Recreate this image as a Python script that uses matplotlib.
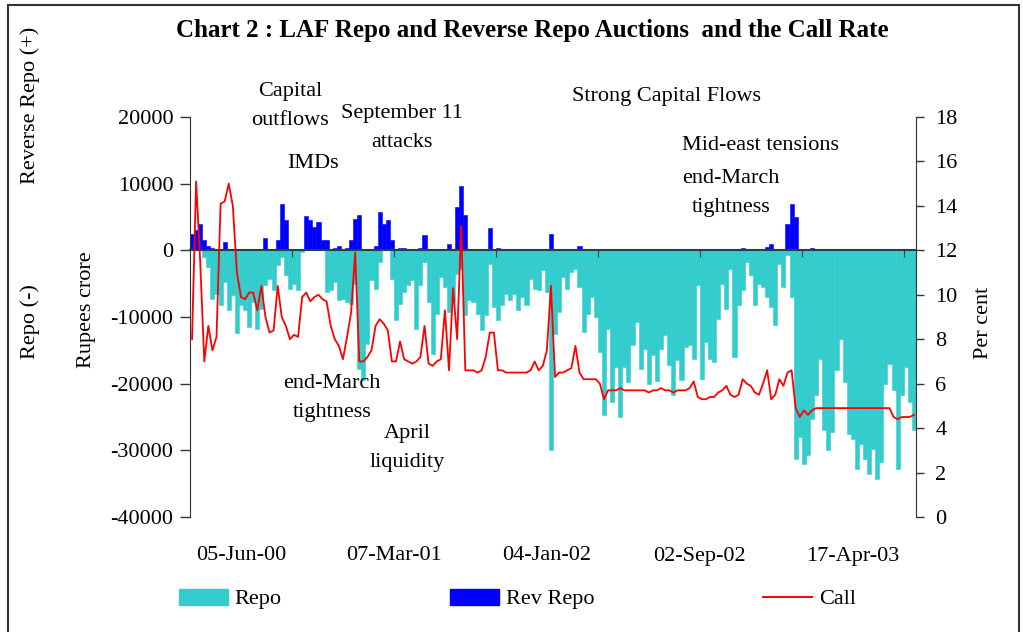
import matplotlib.pyplot as plt
import numpy as np
from matplotlib.patches import Rectangle, Patch
from matplotlib.lines import Line2D

# LAF auctions, one value per block of 4 auction days (Rs crore)
repo = [0, 0, 0, -1000, -2500, -7250, -6500, -8250, -4750, -9000,
        -6750, -12350, -8250, -9000, -11500, -7750, -11750, -8750, -5250, -4250,
        -6000, -2250, -1000, -3750, -5750, -5000, -6000, -250, 0, 0,
        0, 0, 0, -6250, -6000, -4750, -7500, -7250, -7750, -8000,
        -5000, -17750, -19500, -14000, -4500, -5750, -1750, 0, 0, -4250,
        -10500, -8000, -6250, -5250, -4500, -11750, -5250, -1750, -7750, -15500,
        -9500, -4000, -5500, -9250, -7750, -3500, -2750, -9750, -7500, -7750,
        -9500, -12000, -9750, -2000, -8500, -10500, -8250, -6500, -7500, -6500,
        -9000, -7000, -8250, -4250, -5750, -6000, -3000, -6250, -30000, -12500,
        -9250, -4000, -5750, -3250, -2750, -5500, -12250, -9500, -7000, -10000,
        -15250, -24750, -11750, -22750, -17500, -25000, -17500, -19750, -14250, -10750,
        -17750, -14750, -20000, -15750, -19650, -14750, -12750, -17250, -21750, -16500,
        -19500, -14500, -14250, -16250, -5250, -19250, -13750, -16250, -16750, -10250,
        -5000, -8750, -2750, -16000, -8250, -6000, -1750, -3750, -8250, -5000,
        -5500, -7000, -8500, -11250, -2000, -5500, -750, -7000, -31250, -28000,
        -32000, -30750, -25250, -21750, -16250, -27000, -30000, -27250, -18000, -13250,
        -19750, -27500, -28250, -32750, -29000, -31250, -33500, -29750, -34250, -31750,
        -20000, -17000, -21000, -32750, -21750, -17500, -22750, -27000]

rev_repo = [2500, 3000, 4000, 1500, 600, 300, 0, 0, 1250, 0,
            0, 0, 0, 0, 0, 0, 0, 0, 1850, 0,
            0, 1500, 7000, 4500, 0, 0, 0, 0, 5200, 4500,
            3500, 4250, 1500, 1500, 0, 300, 650, 0, 300, 1500,
            4750, 5250, 0, 0, 0, 650, 5750, 4000, 4500, 1500,
            0, 400, 400, 0, 0, 200, 400, 2250, 0, 0,
            0, 0, 0, 1000, 0, 6500, 9650, 5350, 0, 0,
            0, 0, 0, 3350, 0, 350, 0, 0, 0, 0,
            0, 0, 0, 0, 0, 0, 0, 0, 2500, 0,
            0, 0, 0, 0, 0, 650, 0, 0, 0, 0,
            0, 0, 0, 0, 0, 0, 0, 0, 0, 0,
            0, 0, 0, 0, 0, 0, 0, 0, 0, 0,
            0, 0, 0, 0, 0, 0, 0, 0, 0, 0,
            0, 0, 0, 0, 0, 350, 0, 0, 0, 0,
            0, 500, 1000, 0, 0, 0, 4000, 6900, 5000, 0,
            0, 0, 350, 0, 0, 0, 0, 0, 0, 0,
            0, 0, 0, 0, 0, 0, 0, 0, 0, 0,
            0, 0, 0, 0, 0, 0, 0, 0]

# call money rate, per cent
call = [8.0, 15.1, 11.5, 7.0, 8.6, 7.5, 8.1, 14.1, 14.2, 15.0,
        14.0, 11.0, 9.9, 9.8, 10.1, 10.1, 9.3, 10.4, 9.0, 8.3,
        8.4, 10.4, 9.0, 8.6, 8.0, 8.2, 8.1, 9.9, 10.1, 9.7,
        9.9, 10.0, 9.8, 9.7, 8.6, 8.0, 7.7, 7.1, 8.1, 9.2,
        11.9, 7.0, 7.0, 7.2, 7.5, 8.6, 8.9, 8.7, 8.4, 7.0,
        7.0, 7.9, 7.1, 7.0, 6.9, 7.0, 7.2, 8.6, 6.9, 6.8,
        7.0, 7.1, 9.3, 6.6, 10.3, 8.0, 13.1, 6.6, 6.6, 6.6,
        6.5, 6.6, 7.2, 8.3, 8.3, 6.6, 6.6, 6.5, 6.5, 6.5,
        6.5, 6.5, 6.5, 6.6, 7.0, 6.6, 6.8, 7.5, 10.4, 6.3,
        6.5, 6.5, 6.6, 6.7, 7.7, 6.5, 6.2, 6.2, 6.2, 6.2,
        6.0, 5.3, 5.7, 5.7, 5.7, 5.8, 5.7, 5.7, 5.7, 5.7,
        5.7, 5.7, 5.6, 5.7, 5.7, 5.8, 5.7, 5.7, 5.6, 5.7,
        5.7, 5.7, 5.8, 6.1, 5.4, 5.3, 5.3, 5.4, 5.4, 5.6,
        5.7, 5.9, 5.5, 5.4, 5.5, 6.2, 6.0, 5.9, 5.6, 5.5,
        6.0, 6.6, 5.3, 5.5, 6.2, 5.9, 6.5, 6.6, 4.9, 4.5,
        4.8, 4.6, 4.8, 4.9, 4.9, 4.9, 4.9, 4.9, 4.9, 4.9,
        4.9, 4.9, 4.9, 4.9, 4.9, 4.9, 4.9, 4.9, 4.9, 4.9,
        4.9, 4.9, 4.5, 4.4, 4.5, 4.5, 4.5, 4.6]

date_labels = ['05-Jun-00', '07-Mar-01', '04-Jan-02', '02-Sep-02', '17-Apr-03']

plt.rcParams['font.family'] = ['Liberation Serif', 'DejaVu Serif']
plt.rcParams['font.size'] = 16
plt.rcParams['axes.unicode_minus'] = False

W, H = 1023, 632
fig = plt.figure(figsize=(W / 100, H / 100), dpi=100)


def fx(px):
    return px / W


def fy(py):
    return 1 - py / H


ax = fig.add_axes([fx(190), fy(517), fx(916) - fx(190), fy(117) - fy(517)])
x = np.arange(len(repo))
ax.bar(x, repo, width=1.0, color='#33CCCC', edgecolor='#33CCCC', linewidth=0.4)
ax.bar(x, rev_repo, width=1.0, color='#0000FF', edgecolor='#0000FF', linewidth=0.4)
ax.set_xlim(-0.5, len(x) - 0.5)
ax.set_ylim(-40000, 20000)
ax.set_yticks(np.arange(-40000, 20001, 10000))
for s in ['top', 'right']:
    ax.spines[s].set_visible(False)
ax.spines['bottom'].set_position(('data', 0))
ax.spines['bottom'].set_color('#1d4545')
ax.spines['bottom'].set_linewidth(1.5)
ax.spines['left'].set_color('#333333')
ax.set_xticks(np.arange(24.5, len(x), 25))
ax.set_xticklabels([])
ax.tick_params(axis='x', direction='out', length=5, colors='#1d4545')
ax.tick_params(axis='y', direction='out', length=7, width=1, color='#333333', pad=5)

# category labels sit below the plot (every 150 auction days)
for k, lab in enumerate(date_labels):
    ax.text(12 + 37.5 * k, -0.0975, lab, transform=ax.get_xaxis_transform(),
            ha='center', va='center')

ax2 = ax.twinx()
ax2.plot(x, call, color='#FF0000', lw=1.3)
ax2.set_ylim(0, 18)
ax2.set_yticks(range(0, 19, 2))
for s in ['top', 'left', 'bottom']:
    ax2.spines[s].set_visible(False)
ax2.spines['right'].set_color('#333333')
ax2.tick_params(axis='y', direction='out', length=6, width=1, color='#333333', pad=8)

fig.text(fx(532), fy(30), 'Chart 2 : LAF Repo and Reverse Repo Auctions  and the Call Rate',
         ha='center', va='center', fontsize=18, fontweight='bold')
fig.text(fx(30), fy(105), 'Reverse Repo (+)', rotation=90, ha='center', va='center')
fig.text(fx(30), fy(322), 'Repo (-)', rotation=90, ha='center', va='center')
fig.text(fx(86), fy(310), 'Rupees crore', rotation=90, ha='center', va='center')
fig.text(fx(983), fy(323), 'Per cent', rotation=90, ha='center', va='center')

notes = [('Capital\noutflows', 290, 106), ('IMDs', 313, 163),
         ('September 11\nattacks', 402, 128), ('Strong Capital Flows', 667, 97),
         ('Mid-east tensions', 761, 145), ('end-March\ntightness', 731, 193),
         ('end-March\ntightness', 332, 398), ('April\nliquidity', 407, 448)]
for txt, px, py in notes:
    fig.text(fx(px), fy(py), txt, ha='center', va='center', linespacing=1.7)

handles = [Patch(color='#33CCCC'), Patch(color='#0000FF'), Line2D([], [], color='#FF0000', lw=1.4)]
fig.legend(handles, ['Repo', 'Rev Repo', 'Call'], loc='center left',
           bbox_to_anchor=(fx(179), fy(599)), ncol=3, frameon=False,
           handlelength=2.2, handleheight=0.72, handletextpad=0.3,
           columnspacing=7.6, borderpad=0, borderaxespad=0)

fig.patches.append(Rectangle((fx(8), -0.01), fx(1019) - fx(8), fy(5) + 0.01,
                             transform=fig.transFigure, fill=False,
                             edgecolor='#333333', lw=1.5))

fig.savefig('out.png', dpi=100)
